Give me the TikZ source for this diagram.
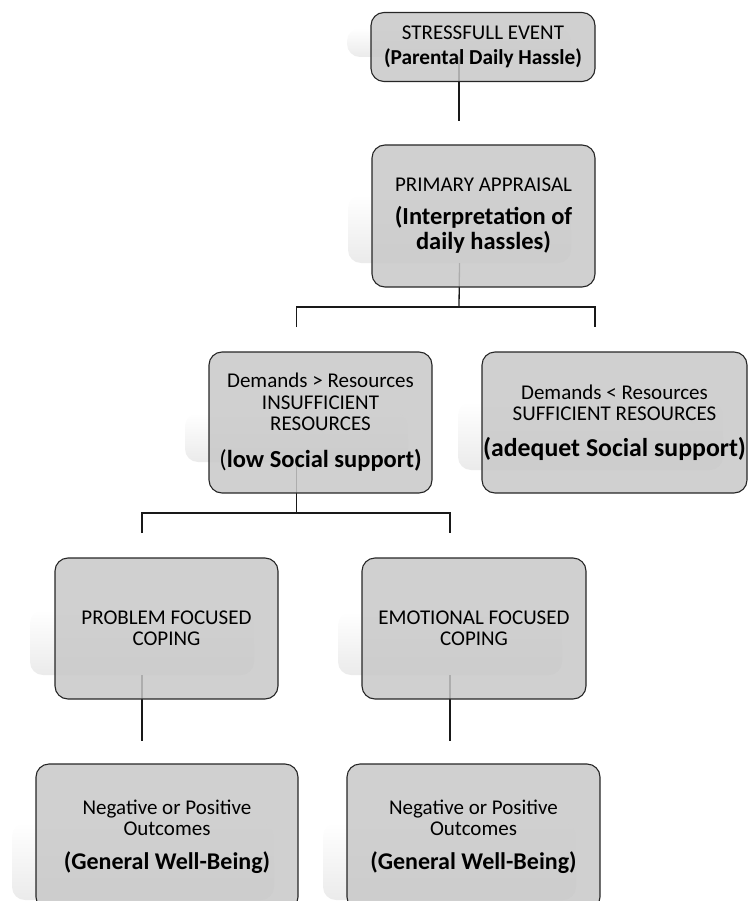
\documentclass[tikz,border=0pt]{standalone}
\usepackage{fontspec}
\setmainfont{Carlito}
\usetikzlibrary{positioning}

\definecolor{boxgray}{RGB}{200,200,200}
\newcommand{\boldline}[2][24.5]{{\fontsize{#1}{25}\selectfont\bfseries #2}}
\setlength{\lineskiplimit}{-50pt}

\begin{document}
\begin{tikzpicture}[x=1pt, y=-1pt,
    box/.style={draw=black!85, line width=1.1pt, rounded corners=13pt, fill=boxgray,
        fill opacity=0.85, text opacity=1, align=center, inner sep=0pt,
        font=\fontsize{21}{21.5}\selectfont},
    ghost/.style={rounded corners=13pt, top color=white, bottom color=black!8, inner sep=0pt},
    link/.style={draw=black!90, line width=1.3pt}]

    \useasboundingbox (0, 0) rectangle (748, 901);

    % Declare the faint backdrops
    \node[ghost, minimum width=224, minimum height=29] at (459, 42.5) (g1) {};
    \node[ghost, minimum width=223, minimum height=68] at (459.5, 229) (g2) {};
    \node[ghost, minimum width=223, minimum height=49] at (296.5, 437.5) (g3) {};
    \node[ghost, minimum width=265, minimum height=68] at (590.5, 436) (g4) {};
    \node[ghost, minimum width=224, minimum height=65] at (142, 642.5) (g5) {};
    \node[ghost, minimum width=224, minimum height=63] at (450, 643.5) (g6) {};
    \node[ghost, minimum width=262, minimum height=77] at (143, 861.5) (g7) {};
    \node[ghost, minimum width=253, minimum height=77] at (449.5, 861.5) (g8) {};

    % Declare the loose ends
    \coordinate (c1) at (459, 121);
    \coordinate (s1) at (459, 307);
    \coordinate (c3) at (296.5, 327);
    \coordinate (c4) at (595, 327);
    \coordinate (s2) at (296.5, 513);
    \coordinate (c5) at (142, 533);
    \coordinate (c6) at (450, 533);
    \coordinate (c7) at (142, 741);
    \coordinate (c8) at (450, 741);

    % Declare edges
    \draw[link] (g1.south) -- (c1);
    \draw[link] (g2.south) -- (s1);
    \draw[link] (c3) |- (s1) -| (c4);
    \draw[link] (g3.south) -- (s2);
    \draw[link] (c5) |- (s2) -| (c6);
    \draw[link] (g5.south) -- (c7);
    \draw[link] (g6.south) -- (c8);

    % Declare the boxes
    \node[box, minimum width=224, minimum height=69] at (483, 47) (event)
        {STRESSFULL EVENT\\[3.5pt]\boldline[21.3]{(Parental Daily Hassle)}};
    \node[box, minimum width=223, minimum height=142] at (483.5, 216) (primary)
        {PRIMARY APPRAISAL\\[11.5pt]\boldline{(Interpretation of}\\[3.5pt]\boldline{daily hassles)}};
    \node[box, minimum width=223, minimum height=141] at (320.5, 422.5) (insuff)
        {Demands > Resources\\INSUFFICIENT\\RESOURCES\\[15.5pt]\boldline{{\mdseries(}low Social support)}};
    \node[box, minimum width=265, minimum height=141] at (614.5, 422.5) (suff)
        {Demands < Resources\\SUFFICIENT RESOURCES\\[14.5pt]\boldline[25.8]{(adequet Social support)}};
    \node[box, minimum width=223, minimum height=141] at (166.5, 628.5) (problem)
        {PROBLEM FOCUSED\\COPING};
    \node[box, minimum width=224, minimum height=141] at (474, 628.5) (emotion)
        {EMOTIONAL FOCUSED\\COPING};
    \node[box, minimum width=262, minimum height=146] at (167, 837) (outleft)
        {Negative or Positive\\Outcomes\\[12.5pt]\boldline[24]{(General Well-Being)}};
    \node[box, minimum width=253, minimum height=146] at (473.5, 837) (outright)
        {Negative or Positive\\Outcomes\\[12.5pt]\boldline[24]{(General Well-Being)}};

\end{tikzpicture}
\end{document}
